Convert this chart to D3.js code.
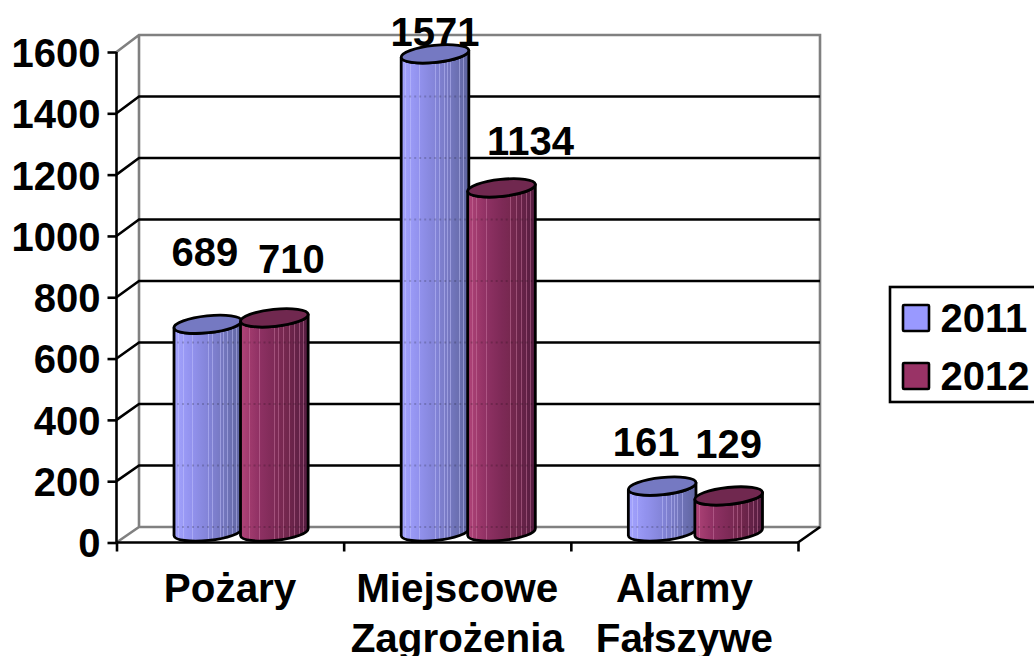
<!DOCTYPE html>
<html><head><meta charset="utf-8">
<script src="https://cdn.jsdelivr.net/npm/d3@7/dist/d3.min.js"></script>
<style>html,body{margin:0;padding:0;background:#fff;overflow:hidden}
svg{display:block}text{font-family:"Liberation Sans",Arial,sans-serif;font-weight:bold;fill:#000}</style>
</head><body><svg id="c" width="1034" height="656"></svg>
<script>
const categories = [["Pożary"], ["Miejscowe", "Zagrożenia"], ["Alarmy", "Fałszywe"]];
const seriesNames = ["2011", "2012"];
const values2011 = [689, 1571, 161];
const values2012 = [710, 1134, 129];
const yTicks = [0, 200, 400, 600, 800, 1000, 1200, 1400, 1600];

const svg = d3.select("#c");
const W = {front:{l:116.5,r:798,b:542.5,t:52}, back:{l:139,r:820,b:527,t:35}};
const yFront = d3.scaleLinear().domain([0,1600]).range([W.front.b,W.front.t]);
const yBack = d3.scaleLinear().domain([0,1600]).range([W.back.b,W.back.t]);
const yCyl = d3.scaleLinear().domain([0,1600]).range([535.5,45]);
const xCat = d3.scaleBand().domain(d3.range(3)).range([W.front.l,W.front.r]);
const xSer = d3.scaleBand().domain([0,1]).range([-66.5,66.5]);
const dx = 11;

// walls
const gray = "#808080";
const g = svg.append("g").attr("fill","none").attr("stroke-width",2.6);
g.append("path").attr("stroke",gray).attr("d",
 `M${W.front.l},${W.front.b}L${W.back.l},${W.back.b}L${W.back.r},${W.back.b}L${W.back.r},${W.back.t}L${W.back.l},${W.back.t}L${W.front.l},${W.front.t}M${W.back.l},${W.back.t}L${W.back.l},${W.back.b}`);
g.selectAll("path.grid").data(yTicks.slice(1,-1)).join("path").attr("class","grid").attr("stroke","#000")
 .attr("d",v=>`M${W.front.l},${yFront(v)}L${W.back.l},${yBack(v)}L${W.back.r},${yBack(v)}`);
g.append("path").attr("stroke","#000").attr("d",`M${W.front.r},${W.front.b}L${W.back.r},${W.back.b}`);

// axes
const yAxis = d3.axisLeft(yFront).tickValues(yTicks).tickSize(9).tickPadding(7).tickFormat(d3.format("d"));
const ya = svg.append("g").attr("transform",`translate(${W.front.l},0)`).call(yAxis);
ya.selectAll("path").attr("d",`M0,${W.front.t}V${W.front.b}`);
ya.selectAll("line,path").attr("stroke","#000").attr("stroke-width",2.6);
ya.selectAll("text").attr("font-size",40).attr("font-family",null).attr("dy","0.36em");

const xTickScale = d3.scaleLinear().domain([0,3]).range([W.front.l,W.front.r]);
const xa = svg.append("g").attr("transform",`translate(0,${W.front.b})`)
 .call(d3.axisBottom(xTickScale).tickValues([0,1,2,3]).tickSize(9).tickFormat(""));
xa.selectAll("path").attr("d",`M${W.front.l},0H${W.front.r}`);
xa.selectAll("line,path").attr("stroke","#000").attr("stroke-width",2.6);

// category labels
categories.forEach((lines,i)=>{
  lines.forEach((t,j)=>{
    svg.append("text").attr("x",xCat(i)+xCat.bandwidth()/2).attr("y",601.5+j*50.5)
      .attr("text-anchor","middle").attr("font-size",40.4).text(t);
  });
});

// colours
const defs = svg.append("defs");
const pal = [
 {stops:["#a4a4ff","#8c8ce8","#7a7cc8","#5f659f"],top:"#7579c2",sw:"#9999ff",stripe:"#c8c8ff"},
 {stops:["#b04478","#862c5e","#76284f","#541c40"],top:"#70284f",sw:"#993366",stripe:"#d080a8"}
];
const stripeAt = [.06,.13,.27,.5,.56,.63,.68,.72,.79,.86,.92];
pal.forEach((p,i)=>{
  const col = d3.scaleLinear().domain([0,.35,.65,1]).range(p.stops);
  const lg = defs.append("linearGradient").attr("id","cyl"+i);
  const add=(o,c)=>lg.append("stop").attr("offset",o).attr("stop-color",c);
  add(0,col(0));
  stripeAt.forEach(f=>{
    const w=.012, s=d3.interpolateRgb(col(f),p.stripe)(.45);
    add(f,col(f));add(f,s);add(f+w,s);add(f+w,col(f+w));
  });
  add(1,col(1));
});

// data labels (placed apart from the bars, as in the picture)
const labelNudge = [[[-3,-58],[17,-45]],[[0,-8],[29,-33]],[[-16,-30],[0,-38]]];
const series = [values2011, values2012];
series.forEach((vals,s)=>vals.forEach((v,i)=>{
  const cx = xCat(i)+xCat.bandwidth()/2+dx+xSer(s)+xSer.bandwidth()/2;
  const [nx,ny]=labelNudge[i][s];
  svg.append("text").attr("x",cx+nx).attr("y",yCyl(v)+ny).attr("text-anchor","middle").attr("font-size",40).text(v);
}));

// cylinders
const rx=34, ry=8.5, rot=-6, cs=Math.cos(6*Math.PI/180)*rx, sn=Math.sin(6*Math.PI/180)*rx;
const baseY=yCyl(0)-3.5;
series.forEach((vals,s)=>vals.forEach((v,i)=>{
  const cx = xCat(i)+xCat.bandwidth()/2+dx+xSer(s)+xSer.bandwidth()/2;
  const ty = yCyl(v);
  const cg = svg.append("g").attr("stroke","#000").attr("stroke-width",2.8).attr("stroke-linejoin","round");
  cg.append("path").attr("fill",`url(#cyl${s})`).attr("d",
   `M${cx-cs},${ty+sn}L${cx-cs},${baseY+sn}A${rx},${ry} ${rot} 0 0 ${cx+cs},${baseY-sn}L${cx+cs},${ty-sn}A${rx},${ry} ${rot} 0 1 ${cx-cs},${ty+sn}Z`);
  // gridlines showing faintly through the cylinder
  yTicks.slice(0,-1).filter(t=>yBack(t)>ty+8 && yBack(t)<baseY+8).forEach(t=>{
    cg.append("line").attr("x1",cx-cs+3).attr("x2",cx+cs-3).attr("y1",yBack(t)).attr("y2",yBack(t))
      .attr("stroke","#000").attr("stroke-opacity",.18).attr("stroke-width",2).attr("stroke-dasharray","2 3");
  });
  cg.append("ellipse").attr("cx",cx).attr("cy",ty).attr("rx",rx).attr("ry",ry)
    .attr("transform",`rotate(${rot} ${cx} ${ty})`).attr("fill",pal[s].top);
}));

// legend
const lg = svg.append("g");
lg.append("rect").attr("x",890).attr("y",287).attr("width",160).attr("height",115).attr("fill","#fff").attr("stroke","#000").attr("stroke-width",2.6);
const yLeg = d3.scalePoint().domain(seriesNames).range([318,376]);
seriesNames.forEach((n,i)=>{
  lg.append("rect").attr("x",903).attr("y",yLeg(n)-13).attr("width",26).attr("height",26).attr("rx",1)
    .attr("fill",pal[i].sw).attr("stroke","#000").attr("stroke-width",2.6);
  lg.append("text").attr("x",940.5).attr("y",yLeg(n)+14).attr("font-size",40).text(n);
});
</script></body></html>
